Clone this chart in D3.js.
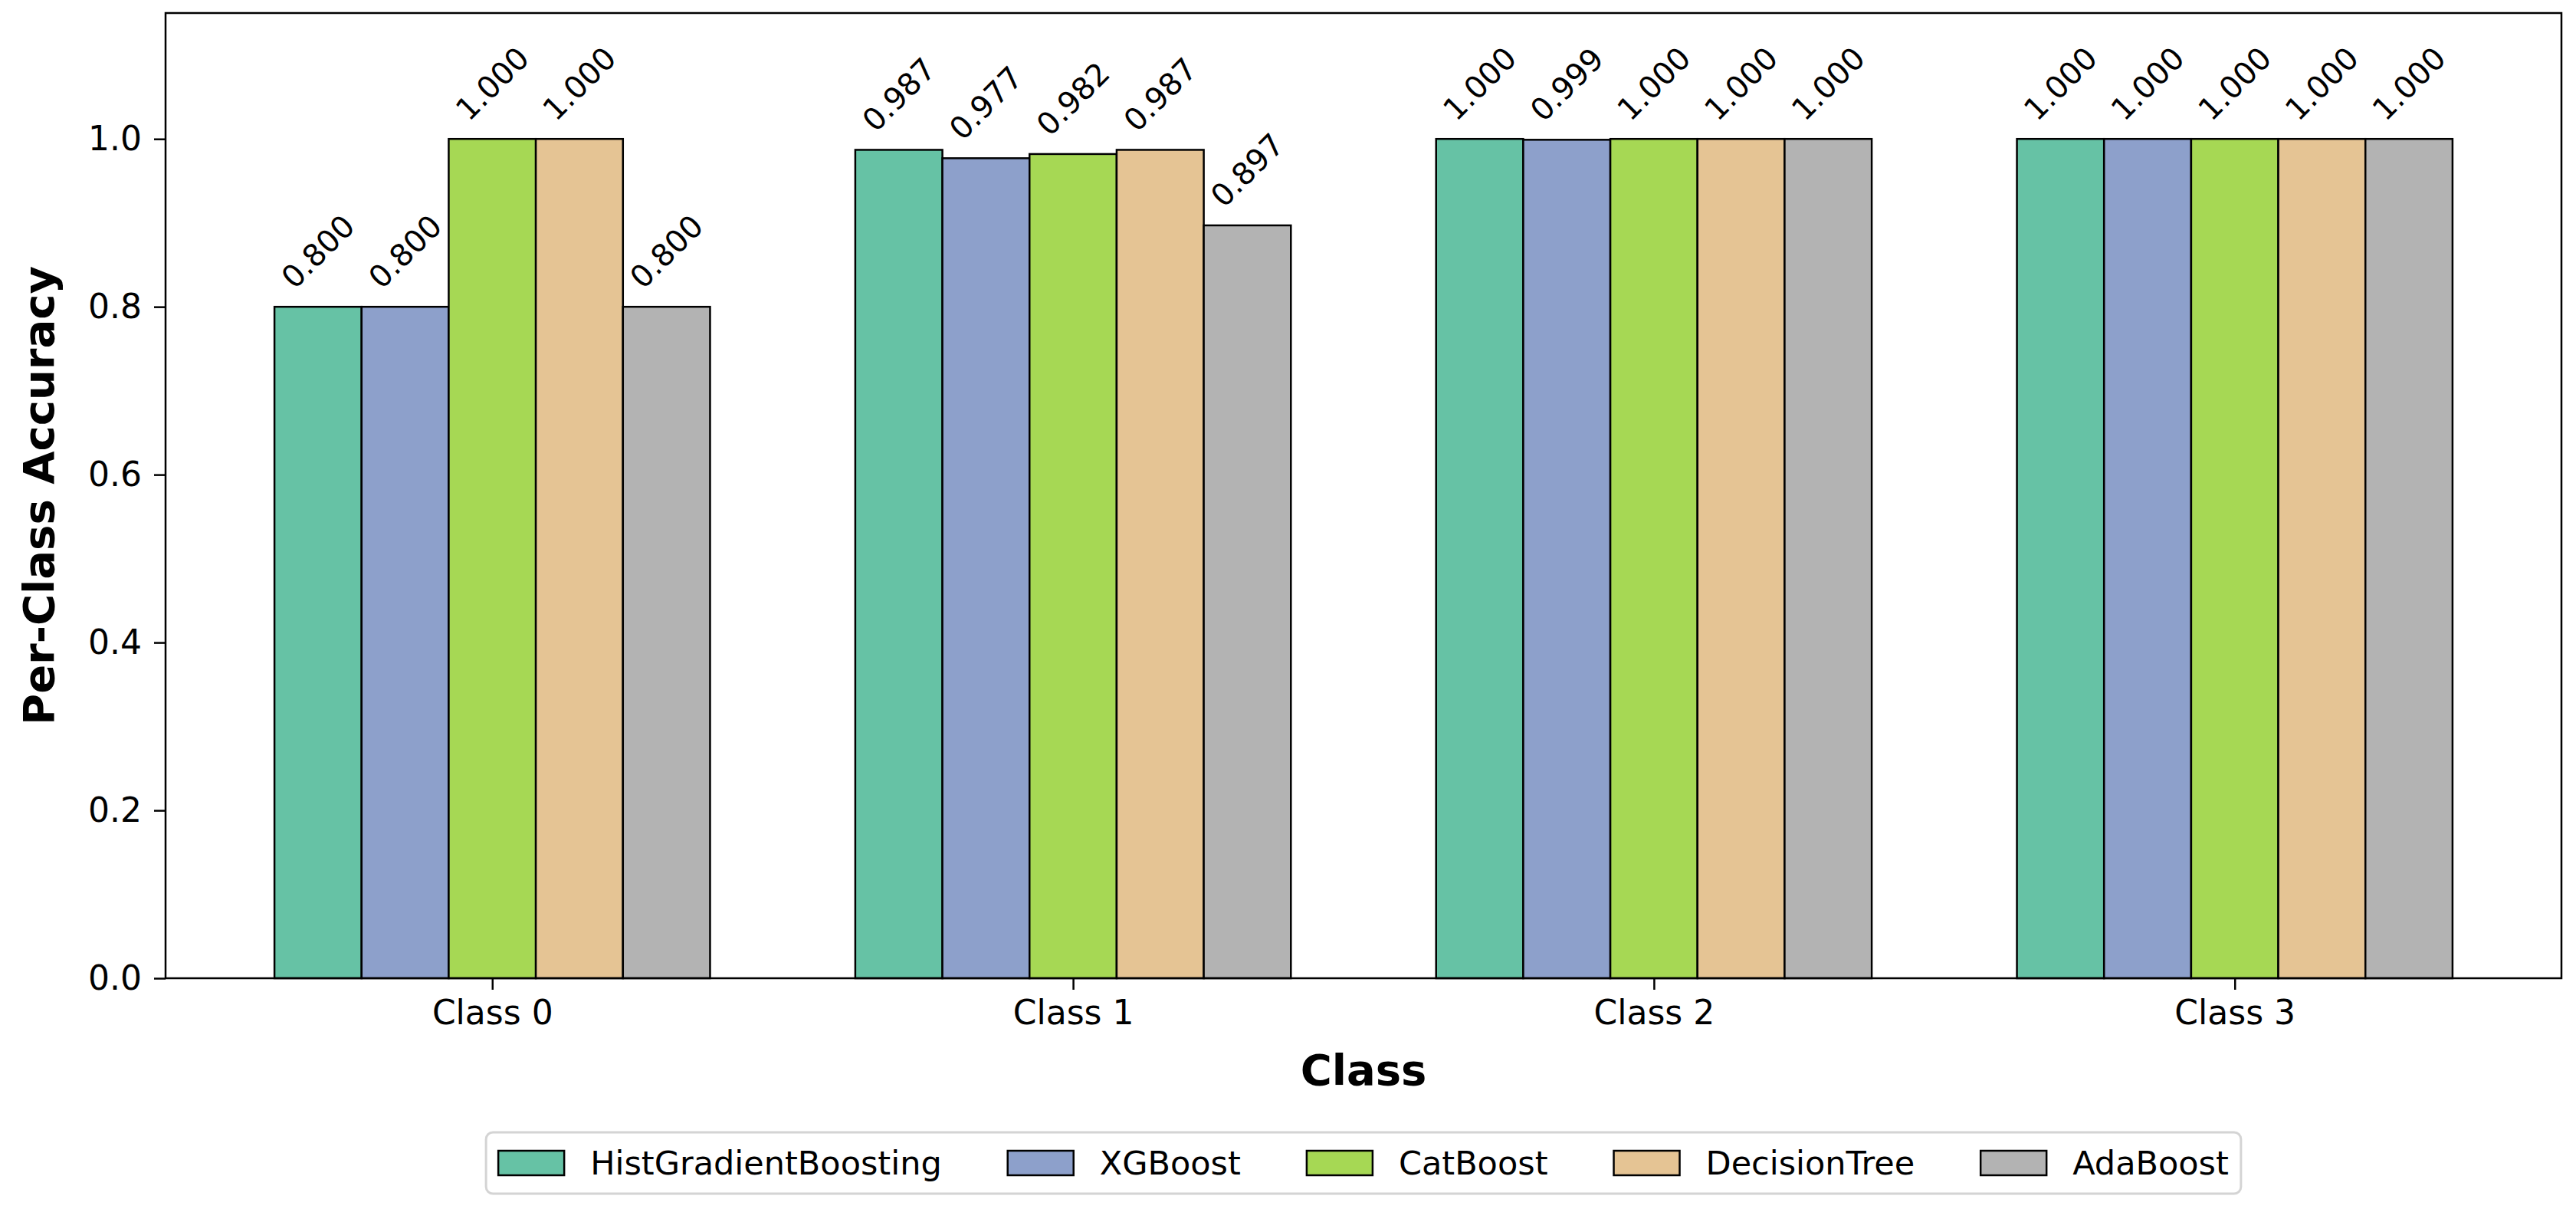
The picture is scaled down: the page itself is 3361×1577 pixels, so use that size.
<!DOCTYPE html>
<html>
<head>
<meta charset="utf-8">
<script src="https://cdn.jsdelivr.net/npm/d3@7"></script>
<style>
  body { margin: 0; background: #fff; }
  text { font-family: "DejaVu Sans", sans-serif; fill: #000; }
</style>
</head>
<body>
<svg id="chart" width="3361" height="1577"></svg>
<script>
// data
const classes = ["Class 0", "Class 1", "Class 2", "Class 3"];
const models = ["HistGradientBoosting", "XGBoost", "CatBoost", "DecisionTree", "AdaBoost"];
const colors = ["#66c2a5", "#8da0cb", "#a6d854", "#e5c494", "#b3b3b3"];
const histGB = [0.800, 0.987, 1.000, 1.000];
const xgb = [0.800, 0.977, 0.999, 1.000];
const catb = [1.000, 0.982, 1.000, 1.000];
const dtree = [1.000, 0.987, 1.000, 1.000];
const ada = [0.800, 0.897, 1.000, 1.000];
const yTicks = [0.0, 0.2, 0.4, 0.6, 0.8, 1.0];

const series = [histGB, xgb, catb, dtree, ada];
const barW = 0.15;

const plot = {left: 216, right: 3342, top: 17, bottom: 1276};

const svg = d3.select("#chart");

const x = d3.scaleLinear()
    .domain([-0.5625, 3.5625])
    .range([plot.left, plot.right]);

const y = d3.scaleLinear()
    .domain([0, 1.15])
    .range([plot.bottom, plot.top]);

// bars
const bars = [];
series.forEach((vals, j) => {
    vals.forEach((v, i) => {
        bars.push({cls: i, model: j, value: v});
    });
});

const g = svg.append("g");

g.selectAll(".bar")
    .data(bars)
    .enter()
    .append("rect")
    .attr("class", "bar")
    .attr("x", d => x(d.cls + (d.model - 2) * barW - barW / 2))
    .attr("width", d => x(barW) - x(0))
    .attr("y", d => y(d.value))
    .attr("height", d => y(0) - y(d.value))
    .attr("fill", d => colors[d.model])
    .attr("stroke", "#000")
    .attr("stroke-width", 2.5);

// value labels, rotated 45deg, bbox centered on bar and sitting just above it
const labelSize = 40;
const labelGap = y(0) - y(0.016);
const labels = g.selectAll(".lbl")
    .data(bars)
    .enter()
    .append("g")
    .attr("class", "lbl");

labels.append("text")
    .attr("font-size", labelSize)
    .attr("text-anchor", "middle")
    .attr("dy", "0.35em")
    .text(d => d.value.toFixed(3));

labels.each(function (d) {
    const t = d3.select(this).select("text");
    const w = t.node().getComputedTextLength();
    const ext = (w + 1.0 * labelSize) / Math.SQRT2;
    const cx = x(d.cls + (d.model - 2) * barW);
    const cy = y(d.value) - labelGap - ext / 2;
    d3.select(this).attr("transform", `translate(${cx},${cy}) rotate(-45)`);
});

// axes
const yAxis = d3.axisLeft(y)
    .tickValues(yTicks)
    .tickFormat(d3.format(".1f"))
    .tickSize(15)
    .tickPadding(16);

const yAxisGroup = svg.append("g")
    .attr("transform", `translate(${plot.left},0)`)
    .call(yAxis);
yAxisGroup.select(".domain").remove();
yAxisGroup.selectAll("line").attr("stroke", "#000").attr("stroke-width", 2.5);
yAxisGroup.selectAll("text")
    .attr("font-size", 44)
    .attr("font-family", "DejaVu Sans")
    .attr("fill", "#000");

const xAxis = d3.axisBottom(x)
    .tickValues([0, 1, 2, 3])
    .tickFormat(i => classes[i])
    .tickSize(15)
    .tickPadding(14);

const xAxisGroup = svg.append("g")
    .attr("transform", `translate(0,${plot.bottom})`)
    .call(xAxis);
xAxisGroup.select(".domain").remove();
xAxisGroup.selectAll("line").attr("stroke", "#000").attr("stroke-width", 2.5);
xAxisGroup.selectAll("text")
    .attr("font-size", 44)
    .attr("font-family", "DejaVu Sans")
    .attr("fill", "#000");

// frame
svg.append("rect")
    .attr("x", plot.left)
    .attr("y", plot.top)
    .attr("width", plot.right - plot.left)
    .attr("height", plot.bottom - plot.top)
    .attr("fill", "none")
    .attr("stroke", "#000")
    .attr("stroke-width", 2.5);

// axis titles
svg.append("text")
    .attr("x", (plot.left + plot.right) / 2)
    .attr("y", 1415)
    .attr("text-anchor", "middle")
    .attr("font-size", 56)
    .attr("font-weight", "bold")
    .text("Class");

svg.append("text")
    .attr("transform", `translate(70,${(plot.top + plot.bottom) / 2}) rotate(-90)`)
    .attr("text-anchor", "middle")
    .attr("font-size", 56)
    .attr("font-weight", "bold")
    .text("Per-Class Accuracy");

// legend
const legFont = 43;
const patchW = 86, patchH = 32, textPad = 34, colGap = 86, padX = 16;
const legTop = 1477, legH = 80;
const leg = svg.append("g");
const legFrame = leg.append("rect");
const items = leg.selectAll(".item")
    .data(models)
    .enter()
    .append("g")
    .attr("class", "item");

items.append("rect")
    .attr("width", patchW)
    .attr("height", patchH)
    .attr("y", legTop + legH / 2 - patchH / 2)
    .attr("fill", (d, i) => colors[i])
    .attr("stroke", "#000")
    .attr("stroke-width", 2.5);

items.append("text")
    .attr("font-size", legFont)
    .attr("y", legTop + legH / 2)
    .attr("dy", "0.35em")
    .text(d => d);

const widths = [];
items.each(function () {
    widths.push(d3.select(this).select("text").node().getComputedTextLength());
});
const total = padX * 2 + d3.sum(widths) + models.length * (patchW + textPad) + (models.length - 1) * colGap;
let cursor = (plot.left + plot.right) / 2 - total / 2 + padX;
items.each(function (d, i) {
    const it = d3.select(this);
    it.select("rect").attr("x", cursor);
    it.select("text").attr("x", cursor + patchW + textPad);
    cursor += patchW + textPad + widths[i] + colGap;
});

legFrame
    .attr("x", (plot.left + plot.right) / 2 - total / 2)
    .attr("y", legTop)
    .attr("width", total)
    .attr("height", legH)
    .attr("rx", 9)
    .attr("fill", "#fff")
    .attr("stroke", "#d4d4d4")
    .attr("stroke-width", 3);
</script>
</body>
</html>
